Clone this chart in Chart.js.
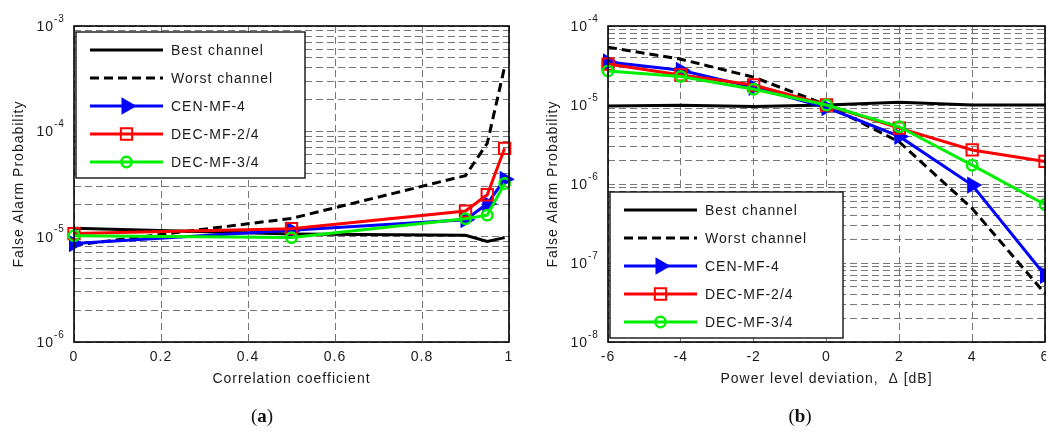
<!doctype html>
<html lang="en">
	<head>
		<meta charset="UTF-8" />
		<title>False Alarm Probability</title>
		<script src="https://cdn.jsdelivr.net/npm/chart.js"></script>
		<style>
			html,
			body {
				margin: 0;
				background: #fff;
			}
			body {
				position: relative;
				width: 1046px;
				height: 432px;
				overflow: hidden;
			}
			.panel {
				position: absolute;
				top: 0;
			}
			#panelA {
				left: 0;
			}
			#panelB {
				left: 523px;
			}
			.caption {
				position: absolute;
				top: 405px;
				width: 100px;
				text-align: center;
				font-family: 'Liberation Serif', 'DejaVu Serif', serif;
				font-size: 19px;
				line-height: 22px;
				color: #111;
			}
		</style>
	</head>
	<body>
		<div class="panel" id="panelA"><canvas id="chartA" width="523" height="432"></canvas></div>
		<div class="panel" id="panelB"><canvas id="chartB" width="540" height="432"></canvas></div>
		<div class="caption" style="left: 212px">(<b>a</b>)</div>
		<div class="caption" style="left: 750px">(<b>b</b>)</div>

		<script>
			// (a) false alarm probability against correlation coefficient
			const rhoValues = [0, 0.5, 0.9, 0.95, 0.99]
			const rhoBest = [1.2e-5, 1.06e-5, 1.03e-5, 9.0e-6, 9.8e-6]
			const rhoWorst = [8.3e-6, 1.49e-5, 3.8e-5, 7.7e-5, 4.1e-4]
			const rhoCen4 = [8.6e-6, 1.15e-5, 1.45e-5, 2.05e-5, 3.5e-5]
			const rhoDec24 = [1.07e-5, 1.19e-5, 1.75e-5, 2.5e-5, 6.9e-5]
			const rhoDec34 = [1.02e-5, 9.8e-6, 1.48e-5, 1.6e-5, 3.2e-5]

			// (b) false alarm probability against power level deviation
			const deltaValues = [-6, -4, -2, 0, 2, 4, 6]
			const deltaBest = [9.7e-6, 9.9e-6, 9.6e-6, 1.0e-5, 1.08e-5, 1.0e-5, 1.0e-5]
			const deltaWorst = [5.4e-5, 3.8e-5, 2.25e-5, 1.0e-5, 3.4e-6, 4.9e-7, 4.1e-8]
			const deltaCen4 = [3.5e-5, 2.75e-5, 1.67e-5, 9.3e-6, 4.0e-6, 9.7e-7, 7.0e-8]
			const deltaDec24 = [3.3e-5, 2.4e-5, 1.79e-5, 1.0e-5, 5.1e-6, 2.7e-6, 1.93e-6]
			const deltaDec34 = [2.7e-5, 2.3e-5, 1.58e-5, 1.0e-5, 5.3e-6, 1.73e-6, 5.5e-7]

			const seriesNames = ['Best channel', 'Worst channel', 'CEN-MF-4', 'DEC-MF-2/4', 'DEC-MF-3/4']

			const FONT = '"Liberation Sans", Arial, sans-serif'
			const TEXT = '#1a1a1a'
			const GRID = '#777'

			// one entry per curve, matlab style (later curves on top)
			function makeDatasets(xs, series) {
				const styles = [
					{ borderColor: '#000', pointRadius: 0 },
					{ borderColor: '#000', borderDash: [9, 5], pointRadius: 0 },
					{
						borderColor: '#0000ff',
						pointStyle: 'triangle',
						pointRotation: 90,
						pointRadius: 8.5,
						pointBackgroundColor: '#0000ff',
						pointBorderColor: '#0000ff',
						pointBorderWidth: 1.5
					},
					{
						borderColor: '#ff0000',
						pointStyle: 'rect',
						pointRadius: 8,
						pointBackgroundColor: 'rgba(0,0,0,0)',
						pointBorderColor: '#ff0000',
						pointBorderWidth: 2
					},
					{
						borderColor: '#00f000',
						pointStyle: 'circle',
						pointRadius: 5.2,
						pointBackgroundColor: 'rgba(0,0,0,0)',
						pointBorderColor: '#00f000',
						pointBorderWidth: 2.5
					}
				]
				return series.map((vals, i) => ({
					label: seriesNames[i],
					data: xs.map((x, k) => ({ x, y: vals[k] })),
					borderWidth: 3,
					tension: 0,
					clip: false,
					order: series.length - i,
					...styles[i]
				}))
			}

			// ticks at 1..9 x 10^n for every decade in the range
			function decadeTicks(scale) {
				const lo = Math.round(Math.log10(scale.min))
				const hi = Math.round(Math.log10(scale.max))
				const ticks = []
				for (let e = lo; e <= hi; e++) {
					for (let k = 1; k <= 9; k++) {
						if (e === hi && k > 1) break
						ticks.push({ value: k * Math.pow(10, e), major: k === 1 })
					}
				}
				scale.ticks = ticks
			}

			const matlabAxes = {
				id: 'matlabAxes',
				beforeDraw(chart) {
					chart.ctx.letterSpacing = '1px'
				},
				afterDatasetsDraw(chart) {
					const { ctx, chartArea: a } = chart
					const y = chart.scales.y
					ctx.save()
					ctx.setLineDash([])
					ctx.strokeStyle = '#000'
					ctx.lineWidth = 1.6
					ctx.strokeRect(a.left, a.top, a.right - a.left, a.bottom - a.top)

					// 10^n labels on the log axis
					ctx.fillStyle = TEXT
					const lo = Math.round(Math.log10(y.min))
					const hi = Math.round(Math.log10(y.max))
					for (let e = lo; e <= hi; e++) {
						const py = y.getPixelForValue(Math.pow(10, e))
						ctx.font = '14px ' + FONT
						ctx.textAlign = 'right'
						ctx.textBaseline = 'middle'
						ctx.fillText('10', a.left - 20, py + 1)
						ctx.font = '10px ' + FONT
						ctx.textAlign = 'left'
						ctx.fillText(String(e), a.left - 20, py - 7)
					}
					ctx.restore()
				},
				afterDraw(chart, args, opts) {
					const { ctx } = chart
					const box = opts.box
					ctx.save()
					ctx.setLineDash([])
					ctx.fillStyle = '#fff'
					ctx.fillRect(box.left, box.top, box.width, box.height)
					ctx.strokeStyle = '#000'
					ctx.lineWidth = 1.3
					ctx.strokeRect(box.left, box.top, box.width, box.height)

					chart.data.datasets.forEach((ds, i) => {
						const cy = box.top + 18 + i * 28
						const x0 = box.left + 14
						const x1 = box.left + 87
						ctx.strokeStyle = ds.borderColor
						ctx.lineWidth = ds.borderWidth
						ctx.setLineDash(ds.borderDash || [])
						ctx.beginPath()
						ctx.moveTo(x0, cy)
						ctx.lineTo(x1, cy)
						ctx.stroke()
						if (ds.pointRadius > 0) {
							ctx.setLineDash([])
							ctx.fillStyle = ds.pointBackgroundColor
							ctx.strokeStyle = ds.pointBorderColor
							ctx.lineWidth = ds.pointBorderWidth
							Chart.helpers.drawPoint(
								ctx,
								{
									pointStyle: ds.pointStyle,
									rotation: ds.pointRotation || 0,
									radius: ds.pointRadius,
									borderWidth: ds.pointBorderWidth
								},
								(x0 + x1) / 2,
								cy
							)
						}
						ctx.fillStyle = TEXT
						ctx.font = '14px ' + FONT
						ctx.textAlign = 'left'
						ctx.textBaseline = 'middle'
						ctx.fillText(ds.label, box.left + 95, cy + 1)
					})
					ctx.restore()
				}
			}

			function makeChart(canvasId, cfg) {
				return new Chart(document.getElementById(canvasId), {
					type: 'line',
					data: { datasets: makeDatasets(cfg.xs, cfg.series) },
					options: {
						responsive: false,
						animation: false,
						events: [],
						layout: { padding: cfg.padding },
						plugins: {
							legend: { display: false },
							tooltip: { enabled: false },
							matlabAxes: { box: cfg.legendBox }
						},
						scales: {
							x: {
								type: 'linear',
								min: cfg.xMin,
								max: cfg.xMax,
								ticks: {
									stepSize: cfg.xStep,
									color: TEXT,
									padding: 7,
									font: { family: FONT, size: 14 },
									// plain numbers: 0, 0.2, ... 1
									callback: (v) => String(Number(v.toFixed(2)))
								},
								grid: { color: GRID, lineWidth: 1, drawTicks: false },
								border: { display: false, dash: [7, 4] },
								title: {
									display: true,
									text: cfg.xTitle,
									color: TEXT,
									padding: { top: 0, bottom: 0 },
									font: { family: FONT, size: 14 }
								},
								afterFit(scale) {
									scale.height = 46
								}
							},
							y: {
								type: 'logarithmic',
								min: cfg.yMin,
								max: cfg.yMax,
								afterBuildTicks: decadeTicks,
								ticks: { display: false },
								grid: { color: GRID, lineWidth: 1, drawTicks: false },
								border: { display: false, dash: [7, 4] },
								title: {
									display: true,
									text: 'False Alarm Probability',
									color: TEXT,
									padding: { top: 0, bottom: 0 },
									font: { family: FONT, size: 14 }
								},
								afterFit(scale) {
									scale.width = 63
								}
							}
						}
					},
					plugins: [matlabAxes]
				})
			}

			makeChart('chartA', {
				xs: rhoValues,
				series: [rhoBest, rhoWorst, rhoCen4, rhoDec24, rhoDec34],
				xMin: 0,
				xMax: 1,
				xStep: 0.2,
				yMin: 1e-6,
				yMax: 1e-3,
				xTitle: 'Correlation coefficient',
				padding: { left: 11, top: 26, right: 14, bottom: 44 },
				legendBox: { left: 76, top: 32, width: 229, height: 146 }
			})

			makeChart('chartB', {
				xs: deltaValues,
				series: [deltaBest, deltaWorst, deltaCen4, deltaDec24, deltaDec34],
				xMin: -6,
				xMax: 6,
				xStep: 2,
				yMin: 1e-8,
				yMax: 1e-4,
				xTitle: 'Power level deviation,  Δ [dB]',
				padding: { left: 22, top: 26, right: 18, bottom: 44 },
				legendBox: { left: 87, top: 192, width: 233, height: 146 }
			})
		</script>
	</body>
</html>
